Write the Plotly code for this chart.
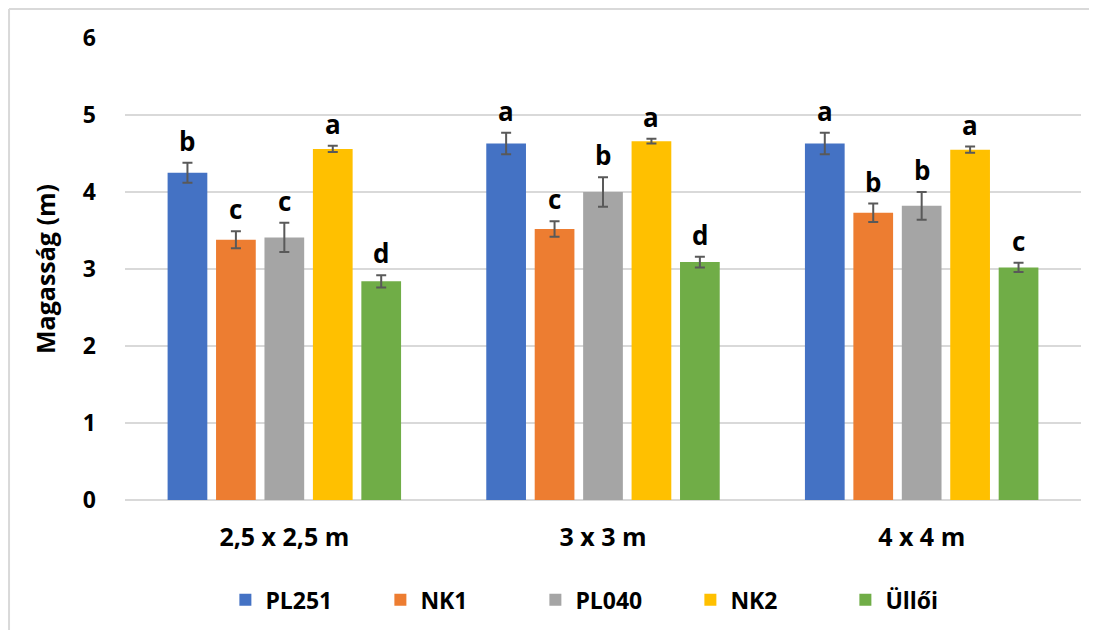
import plotly.graph_objects as go

categories = ["2,5 x 2,5 m", "3 x 3 m", "4 x 4 m"]
series_names = ["PL251", "NK1", "PL040", "NK2", "Üllői"]
colors = ["#4472C4", "#ED7D31", "#A5A5A5", "#FFC000", "#70AD47"]

pl251 = [4.25, 4.63, 4.63]
nk1 = [3.38, 3.52, 3.73]
pl040 = [3.41, 4.00, 3.82]
nk2 = [4.56, 4.66, 4.55]
ulloi = [2.84, 3.09, 3.02]

pl251_err = [0.13, 0.14, 0.14]
nk1_err = [0.11, 0.10, 0.12]
pl040_err = [0.19, 0.19, 0.18]
nk2_err = [0.04, 0.03, 0.04]
ulloi_err = [0.08, 0.07, 0.06]

pl251_letters = ["b", "a", "a"]
nk1_letters = ["c", "c", "b"]
pl040_letters = ["c", "b", "b"]
nk2_letters = ["a", "a", "a"]
ulloi_letters = ["d", "d", "c"]

values = [pl251, nk1, pl040, nk2, ulloi]
errors = [pl251_err, nk1_err, pl040_err, nk2_err, ulloi_err]
letters = [pl251_letters, nk1_letters, pl040_letters, nk2_letters, ulloi_letters]

FONT = "Open Sans"
bargap = 0.24
xpos = list(range(len(categories)))

fig = go.Figure()
for i, name in enumerate(series_names):
    fig.add_trace(go.Bar(
        x=xpos, y=values[i], name=name,
        marker=dict(color=colors[i], line=dict(width=0)),
        error_y=dict(type="data", array=errors[i], visible=True,
                     color="#595959", thickness=2, width=5),
    ))

n = len(series_names)
slot = (1 - bargap) / n
annotations = []
for i in range(n):
    for g in xpos:
        x = g - (1 - bargap) / 2 + slot * (i + 0.5)
        annotations.append(dict(
            x=x, y=values[i][g] + errors[i][g], xref="x", yref="y",
            text=letters[i][g], showarrow=False, yanchor="bottom", yshift=2,
            font=dict(family=FONT, size=26, color="#000000", weight="bold"),
        ))

fig.update_layout(
    width=1097, height=630,
    margin=dict(l=117, r=24, t=30, b=138),
    paper_bgcolor="white", plot_bgcolor="white",
    barmode="group", bargap=bargap, bargroupgap=0.18,
    font=dict(family=FONT, color="#000000"),
    showlegend=True,
    legend=dict(orientation="h", x=0.105, xanchor="left", y=-0.216, yanchor="middle",
                font=dict(family=FONT, size=23, weight="bold"),
                entrywidth=110, entrywidthmode="pixels", itemwidth=30, traceorder="normal"),
    annotations=annotations,
    shapes=[
        dict(type="line", xref="paper", yref="paper", x0=-0.1213, x1=1.03, y0=1.0628, y1=1.0628,
             line=dict(color="#D9D9D9", width=2)),
        dict(type="line", xref="paper", yref="paper", x0=-0.1213, x1=-0.1213, y0=1.0628, y1=-0.32,
             line=dict(color="#D9D9D9", width=2)),
    ],
)
fig.update_xaxes(
    tickvals=xpos, ticktext=categories, range=[-0.5, 2.5],
    showgrid=False, showline=False, zeroline=False, ticks="",
    tickfont=dict(family=FONT, size=25, weight="bold"),
    ticklabelstandoff=20,
)
fig.update_yaxes(
    range=[0, 6], dtick=1, showgrid=True, gridcolor="#D9D9D9", gridwidth=1.5,
    zeroline=True, zerolinecolor="#D9D9D9", zerolinewidth=1.5,
    tickfont=dict(family=FONT, size=23, weight="bold"),
    ticklabelstandoff=28,
    title=dict(text="Magasság (m)", font=dict(family=FONT, size=25, weight="bold"), standoff=20),
)

fig.write_html("out.html")
